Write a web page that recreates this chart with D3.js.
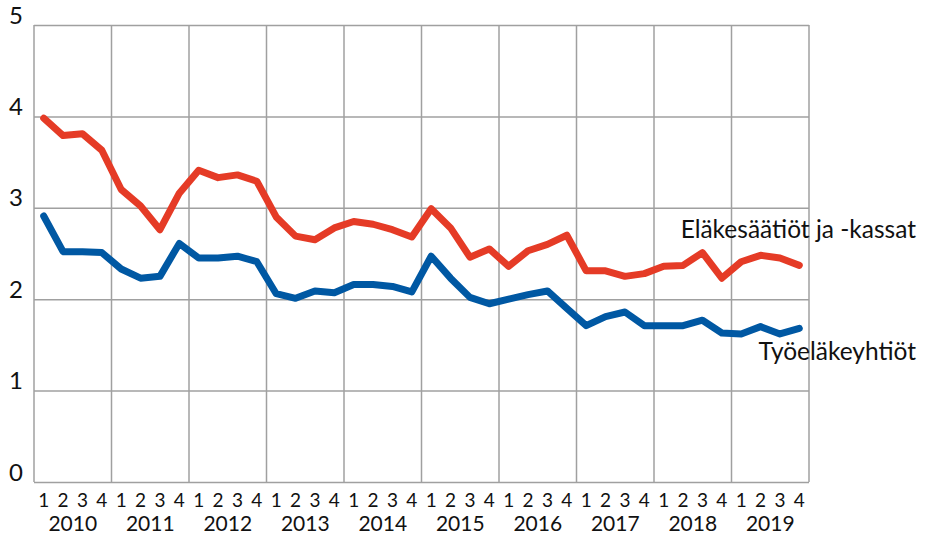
<!DOCTYPE html>
<html>
<head>
<meta charset="utf-8">
<script src="https://cdn.jsdelivr.net/npm/d3@7"></script>
<style>
  html, body { margin: 0; padding: 0; background: #fff; }
  svg text { font-family: Lato, "Open Sans", sans-serif; fill: #111; }
</style>
</head>
<body>
<svg id="chart" width="927" height="534"></svg>
<script>
// Quarterly series 2010–2019
const years = ["2010", "2011", "2012", "2013", "2014", "2015", "2016", "2017", "2018", "2019"];
const quarterLabels = ["1", "2", "3", "4"];
const yTicks = [0, 1, 2, 3, 4, 5];

const seriesNames = ["Eläkesäätiöt ja -kassat", "Työeläkeyhtiöt"];

const elakesaatiot = [
  3.98, 3.79, 3.81, 3.63,
  3.20, 3.02, 2.76, 3.16,
  3.41, 3.33, 3.36, 3.29,
  2.90, 2.69, 2.65, 2.78,
  2.85, 2.82, 2.76, 2.68,
  2.99, 2.78, 2.46, 2.55,
  2.36, 2.53, 2.60, 2.70,
  2.31, 2.31, 2.25, 2.28,
  2.36, 2.37, 2.51, 2.23,
  2.41, 2.48, 2.45, 2.37
];

const tyoelakeyhtiot = [
  2.91, 2.52, 2.52, 2.51,
  2.33, 2.23, 2.25, 2.61,
  2.45, 2.45, 2.47, 2.41,
  2.06, 2.01, 2.09, 2.07,
  2.16, 2.16, 2.14, 2.08,
  2.47, 2.23, 2.02, 1.95,
  2.00, 2.05, 2.09, 1.90,
  1.71, 1.81, 1.86, 1.71,
  1.71, 1.71, 1.77, 1.63,
  1.62, 1.70, 1.62, 1.68
];

const colors = ["#e53b26", "#0058a3"];

const svg = d3.select("#chart");
const plotLeft = 34, plotRight = 809, plotTop = 25, plotBottom = 482;

const keys = [];
years.forEach(yr => quarterLabels.forEach(q => keys.push(yr + "-" + q)));

const x = d3.scaleBand().domain(keys).range([plotLeft, plotRight]).padding(0);
const yearX = d3.scaleBand().domain(years).range([plotLeft, plotRight]).padding(0);
const y = d3.scaleLinear().domain([0, 5]).range([plotBottom, plotTop]);

const gridColor = "#a0a0a0";

// horizontal gridlines + value labels
const yAxis = d3.axisLeft(y).tickValues(yTicks).tickSize(-(plotRight - plotLeft)).tickPadding(11).tickFormat(d3.format("d"));
const gy = svg.append("g").attr("transform", `translate(${plotLeft},0)`).call(yAxis);
gy.select(".domain").remove();
gy.selectAll(".tick line").attr("stroke", gridColor).attr("stroke-width", 1.5);
gy.selectAll(".tick text").attr("font-size", 24).attr("dy", "-0.08em").attr("fill", "#111");

// vertical year gridlines
const boundaries = years.map(yr => yearX(yr)).concat([plotRight]);
svg.append("g").selectAll("line").data(boundaries).join("line")
  .attr("x1", d => d).attr("x2", d => d)
  .attr("y1", plotTop).attr("y2", plotBottom)
  .attr("stroke", gridColor).attr("stroke-width", 1.5);

// quarter labels
const xAxis = d3.axisBottom(x).tickSize(0).tickPadding(12).tickFormat(k => k.split("-")[1]);
const gx = svg.append("g").attr("transform", `translate(0,${plotBottom})`).call(xAxis);
gx.select(".domain").remove();
gx.selectAll(".tick text").attr("font-size", 19).attr("fill", "#111");

// year labels
const yearAxis = d3.axisBottom(yearX).tickSize(0).tickPadding(34);
const gyear = svg.append("g").attr("transform", `translate(0,${plotBottom})`).call(yearAxis);
gyear.select(".domain").remove();
gyear.selectAll(".tick text").attr("font-size", 21).attr("fill", "#111");

// series lines
const line = d3.line()
  .x((d, i) => x(keys[i]) + x.bandwidth() / 2)
  .y(d => y(d));

[elakesaatiot, tyoelakeyhtiot].forEach((vals, si) => {
  svg.append("path")
    .datum(vals)
    .attr("d", line)
    .attr("fill", "none")
    .attr("stroke", colors[si])
    .attr("stroke-width", 7)
    .attr("stroke-linejoin", "round")
    .attr("stroke-linecap", "round");
});

// series labels
svg.append("text").attr("x", 916).attr("y", 238).attr("text-anchor", "end")
  .attr("font-size", 24.5).text(seriesNames[0]);
svg.append("text").attr("x", 916).attr("y", 360).attr("text-anchor", "end")
  .attr("font-size", 24.5).text(seriesNames[1]);
</script>
</body>
</html>
